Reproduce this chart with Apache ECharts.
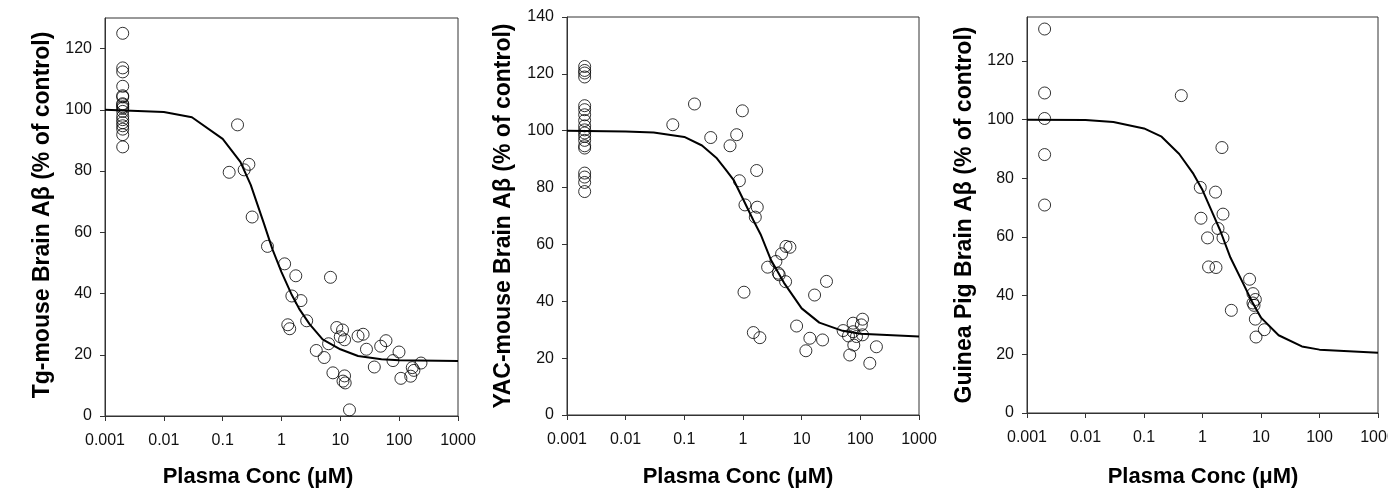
<!DOCTYPE html>
<html>
<head>
<meta charset="utf-8">
<script src="https://cdn.jsdelivr.net/npm/echarts@6/dist/echarts.min.js"></script>
<style>
  html, body { margin: 0; padding: 0; background: #ffffff; }
  #chart { width: 1388px; height: 492px; }
</style>
</head>
<body>
<div id="chart"></div>
<script>
// Concentration tick labels shared by the three log axes (0.001 … 1000 µM)
const xTickLabels = ['0.001', '0.01', '0.1', '1', '10', '100', '1000'];
const yTickValuesTg = [0, 20, 40, 60, 80, 100, 120];
const yTickValuesYac = [0, 20, 40, 60, 80, 100, 120, 140];
const yTickValuesGp = [0, 20, 40, 60, 80, 100, 120];

// Axis titles
const yTitles = ['Tg-mouse Brain A\u03b2 (% of control)', 'YAC-mouse Brain A\u03b2 (% of control)', 'Guinea Pig Brain A\u03b2 (% of control)'];
const xTitle = 'Plasma Conc (\u03bcM)';

// Vehicle controls are plotted at 0.002 µM
const controlConc = 0.002;

// Tg-mouse
const tgControl = [125, 113.7, 112.4, 107.7, 104.6, 104.2, 102, 101.7, 101, 100.5, 99.5, 97.9, 96.8, 95.8, 94.8, 93.7, 91.9, 87.9];
const tgTreated = [
  [0.129, 79.6], [0.179, 95.1], [0.232, 80.4], [0.279, 82.2], [0.317, 65.0], [0.578, 55.4],
  [1.13, 49.7], [1.75, 45.8], [1.5, 39.2], [2.14, 37.7], [2.68, 31.1], [1.28, 29.8], [1.38, 28.5],
  [6.8, 45.3], [3.9, 21.4], [5.32, 19.1], [6.31, 23.6], [7.48, 14.1], [8.7, 28.9], [10.9, 28.1],
  [9.98, 25.9], [11.8, 24.9], [11.8, 13.1], [11.1, 11.4], [12.1, 10.8], [14.3, 2.0], [20, 26.1],
  [24.4, 26.7], [27.8, 21.8], [37.8, 16.0], [48.5, 22.8], [59.7, 24.6], [78.5, 18.1], [99.4, 20.9],
  [107, 12.3], [157, 13.0], [167, 15.8], [178, 14.9], [235, 17.3]
];
const tgFit = [
  [0.001, 100], [0.01, 99.3], [0.03, 97.6], [0.1, 90.5], [0.2, 83], [0.3, 75.5], [0.5, 63],
  [0.7, 54.5], [1, 47], [1.5, 39.5], [2, 35], [3, 30], [5, 25], [10, 21.8], [20, 19.6],
  [50, 18.5], [100, 18.2], [1000, 18]
];

// YAC-mouse
const yacControl = [122.6, 121.2, 120.3, 118.9, 108.8, 107.4, 105.6, 103.6, 101.7, 100.3, 99.2, 98.0, 96.6, 94.7, 93.9, 85.1, 83.7, 81.8, 78.6];
const yacTreated = [
  [0.0636, 102.1], [0.149, 109.4], [0.282, 97.6], [0.601, 94.7], [0.78, 98.6], [0.975, 107.0],
  [0.867, 82.4], [1.08, 73.9], [1.71, 86.0], [1.75, 73.1], [1.62, 69.6], [1.04, 43.2], [1.5, 29.0],
  [1.94, 27.2], [2.63, 52.0], [3.64, 54.0], [3.99, 49.9], [4.15, 49.3], [4.55, 56.7], [5.4, 59.3],
  [6.31, 59.0], [5.32, 46.9], [8.2, 31.3], [11.8, 22.6], [13.8, 27.0], [16.6, 42.2], [22.7, 26.4],
  [26.5, 47.0], [50.9, 29.7], [62.8, 27.8], [75.3, 32.3], [109, 33.7], [104, 31.7], [75.3, 29.3],
  [86, 27.6], [109, 28.2], [77.4, 24.6], [66, 21.1], [188, 24.0], [145, 18.2]
];
const yacFit = [
  [0.001, 100], [0.01, 99.7], [0.03, 99.4], [0.1, 97.8], [0.2, 94.8], [0.35, 90.5], [0.5, 86.5],
  [0.7, 82.5], [1, 76], [1.5, 68.5], [2, 63.5], [3, 54.5], [5, 46.5], [10, 37.5], [20, 32.5],
  [50, 29.6], [100, 28.6], [1000, 27.6]
];

// Guinea pig
const gpControl = [130.9, 109.1, 100.4, 88.1, 70.9];
const gpTreated = [
  [0.434, 108.2], [0.916, 76.9], [1.67, 75.3], [0.942, 66.4], [2.24, 67.8], [1.84, 62.9],
  [1.22, 59.7], [2.24, 59.7], [1.27, 49.8], [1.70, 49.6], [2.15, 90.5], [3.11, 35.0], [6.38, 45.6],
  [7.29, 40.7], [8.0, 38.7], [7.29, 37.5], [7.6, 36.7], [8.0, 32.0], [11.4, 28.4], [8.22, 25.9]
];
const gpFit = [
  [0.001, 100], [0.01, 99.9], [0.03, 99.2], [0.1, 97], [0.2, 94.2], [0.4, 88.3], [0.7, 81.5],
  [1, 76], [1.5, 68], [2, 62.3], [3, 53], [5, 44], [7, 38], [10, 32.5], [20, 26.5], [50, 22.7],
  [100, 21.6], [1000, 20.5]
];

const panels = [
  { control: tgControl, treated: tgTreated, fit: tgFit, yMax: 130, yTicks: yTickValuesTg },
  { control: yacControl, treated: yacTreated, fit: yacFit, yMax: 140, yTicks: yTickValuesYac },
  { control: gpControl, treated: gpTreated, fit: gpFit, yMax: 135, yTicks: yTickValuesGp }
];

// Plot-area boxes and title anchors for each panel
const boxes = [
  { left: 105, top: 18, width: 353, height: 398, yTitleX: 43, yTitleY: 215, xTitleX: 258 },
  { left: 567, top: 17, width: 352, height: 398, yTitleX: 504, yTitleY: 216, xTitleX: 738 },
  { left: 1027, top: 17, width: 351, height: 396, yTitleX: 965, yTitleY: 215, xTitleX: 1203 }
];

const FONT = '"Liberation Sans", Arial, sans-serif';
const AXIS_COLOR = '#333';

const option = {
  animation: false,
  backgroundColor: '#ffffff',
  grid: boxes.map(b => ({
    left: b.left, top: b.top, width: b.width, height: b.height,
    containLabel: false, outerBoundsMode: 'none',
    show: true, borderColor: AXIS_COLOR, borderWidth: 1, backgroundColor: 'transparent'
  })),
  xAxis: panels.map((p, i) => ({
    type: 'log', logBase: 10, gridIndex: i, min: 0.001, max: 1000, splitNumber: 6,
    axisLine: { show: true, lineStyle: { color: AXIS_COLOR, width: 1 } },
    axisTick: { show: true, inside: false, length: 5, lineStyle: { color: AXIS_COLOR } },
    minorTick: { show: false },
    splitLine: { show: false },
    axisLabel: {
      show: true, fontSize: 16, color: '#111', fontFamily: FONT, margin: 17,
      showMinLabel: true, showMaxLabel: true, hideOverlap: false,
      formatter: v => xTickLabels[Math.round(Math.log10(v)) + 3]
    }
  })),
  yAxis: panels.map((p, i) => ({
    type: 'value', gridIndex: i, min: 0, max: p.yMax, interval: 20,
    axisLine: { show: true, lineStyle: { color: AXIS_COLOR, width: 1 } },
    axisTick: { show: true, inside: false, length: 5, lineStyle: { color: AXIS_COLOR }, customValues: p.yTicks },
    splitLine: { show: false },
    axisLabel: { fontSize: 16, color: '#111', fontFamily: FONT, margin: 13, customValues: p.yTicks }
  })),
  series: panels.flatMap((p, i) => [
    {
      type: 'line', xAxisIndex: i, yAxisIndex: i, data: p.fit,
      showSymbol: false, smooth: false, silent: true,
      lineStyle: { color: '#000', width: 2 }, z: 2
    },
    {
      type: 'scatter', xAxisIndex: i, yAxisIndex: i,
      data: p.control.map(v => [controlConc, v]).concat(p.treated),
      symbol: 'circle', symbolSize: 12, silent: true,
      itemStyle: { color: 'rgba(0,0,0,0)', borderColor: '#000', borderWidth: 1 }, z: 3
    }
  ]),
  graphic: boxes.flatMap((b, i) => [
    {
      type: 'text', x: b.yTitleX, y: b.yTitleY, rotation: Math.PI / 2,
      style: { text: yTitles[i], font: 'bold 23px ' + FONT, fill: '#000', align: 'center', verticalAlign: 'middle' }
    },
    {
      type: 'text', x: b.xTitleX, y: 477,
      style: { text: xTitle, font: 'bold 22px ' + FONT, fill: '#000', align: 'center', verticalAlign: 'middle' }
    }
  ])
};

const chart = echarts.init(document.getElementById('chart'), null, { renderer: 'canvas' });
chart.setOption(option);
</script>
</body>
</html>
